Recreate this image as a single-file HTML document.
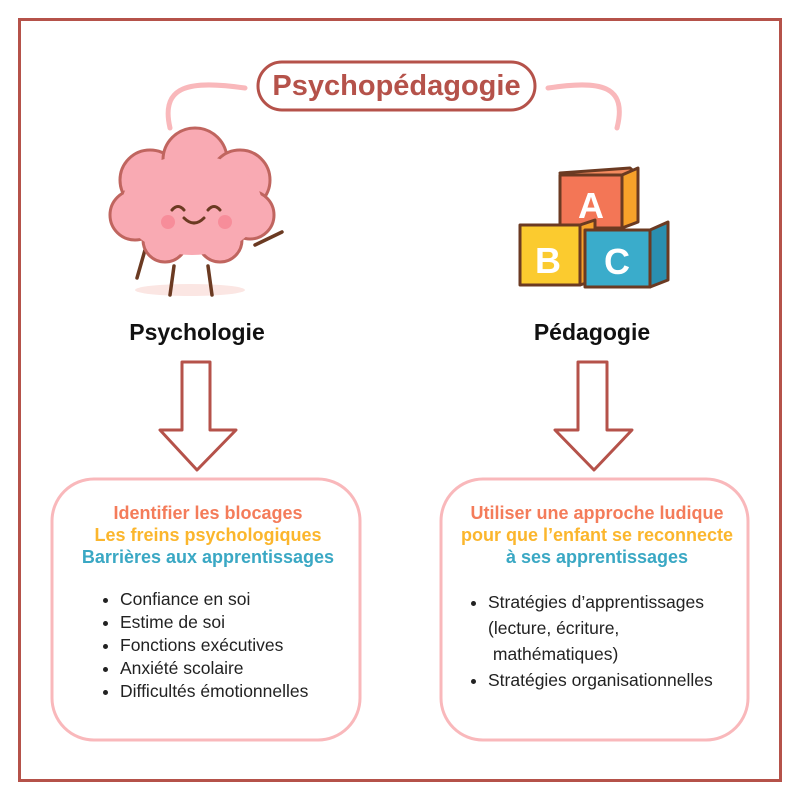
<!DOCTYPE html>
<html><head><meta charset="utf-8"><style>
body{margin:0;background:#fff;}
.wrap{position:relative;width:800px;height:800px;overflow:hidden;font-family:"Liberation Sans",sans-serif;}
.t{position:absolute;text-align:center;}
.h{font-weight:bold;font-size:18px;line-height:22px;}
ul{position:absolute;margin:0;padding:0 0 0 20px;font-size:17.5px;color:#222;}
li{line-height:23px;}
</style></head><body><div class="wrap">
<svg width="800" height="800" style="position:absolute;left:0;top:0">
<rect x="19.5" y="19.5" width="761" height="761" fill="none" stroke="#b5524a" stroke-width="3"/>
<path d="M170 128 C160 85 190 80 245 88" fill="none" stroke="#f9b8bb" stroke-width="5" stroke-linecap="round"/>
<path d="M548 88 C600 80 628 85 617 128" fill="none" stroke="#f9b8bb" stroke-width="5" stroke-linecap="round"/>
<rect x="258" y="62" width="277" height="48" rx="24" fill="#fff" stroke="#b5524a" stroke-width="3"/>
<ellipse cx="190" cy="290" rx="55" ry="6" fill="#fbe6e3"/>
<g stroke="#6b3a22" stroke-width="3.5" fill="none" stroke-linecap="round">
<path d="M174 266 L170 295 M208 266 L212 295 M145 250 L137 278 M255 245 L282 232"/>
</g>
<g fill="#f9aab3" stroke="#c0655f" stroke-width="3">
<circle cx="150" cy="180" r="30"/><circle cx="195" cy="160" r="32"/><circle cx="240" cy="180" r="30"/>
<circle cx="135" cy="215" r="25"/><circle cx="250" cy="215" r="24"/><circle cx="165" cy="240" r="22"/><circle cx="220" cy="240" r="22"/>
</g>
<ellipse cx="192" cy="205" rx="70" ry="50" fill="#f9aab3"/>
<g stroke="#6b3a22" stroke-width="3" fill="none" stroke-linecap="round">
<path d="M172 210 q6 -7 12 0 M208 210 q6 -7 12 0 M184 218 q10 10 20 0"/>
</g>
<circle cx="168" cy="222" r="7" fill="#f78d9a"/><circle cx="225" cy="222" r="7" fill="#f78d9a"/>
<g stroke="#6b3a22" stroke-width="3" stroke-linejoin="round">
<polygon points="560,173 630,168 638,175 568,182" fill="#f48a5e"/>
<rect x="560" y="175" width="62" height="53" fill="#f37656"/>
<polygon points="622,175 638,168 638,222 622,228" fill="#f7a12a"/>
<rect x="520" y="225" width="60" height="60" fill="#fbcb2f"/>
<polygon points="580,225 595,220 595,280 580,285" fill="#f7a12a"/>
<rect x="585" y="230" width="65" height="57" fill="#3aaccb"/>
<polygon points="650,230 668,222 668,280 650,287" fill="#2a8fb0"/>
</g>
<g font-family="Liberation Sans" font-weight="bold" fill="#fff" font-size="36" text-anchor="middle">
<text x="591" y="218">A</text><text x="548" y="273">B</text><text x="617" y="274">C</text></g>
<g fill="#fff" stroke="#b5524a" stroke-width="3" stroke-linejoin="round">
<polygon points="182,362 210,362 210,430 236,430 197,470 160,430 182,430"/>
<polygon points="578,362 607,362 607,430 632,430 594,470 555,430 578,430"/>
</g>
<rect x="52" y="479" width="308" height="261" rx="42" fill="#fff" stroke="#f9b8bb" stroke-width="3"/>
<rect x="441" y="479" width="307" height="261" rx="42" fill="#fff" stroke="#f9b8bb" stroke-width="3"/>
</svg>
<div class="t" style="left:248px;top:64px;width:297px;line-height:44px;font-size:29px;font-weight:bold;color:#b5524a;">Psychopédagogie</div>
<div class="t" style="left:97px;top:319px;width:200px;font-size:23px;font-weight:bold;color:#111;">Psychologie</div>
<div class="t" style="left:492px;top:319px;width:200px;font-size:23px;font-weight:bold;color:#111;">Pédagogie</div>
<div class="t h" style="left:42px;top:502px;width:332px;"><span style="color:#f47c5a">Identifier les blocages</span><br><span style="color:#fbb62d">Les freins psychologiques</span><br><span style="color:#3aa8c4">Barrières aux apprentissages</span></div>
<div class="t h" style="left:431px;top:502px;width:332px;"><span style="color:#f47c5a">Utiliser une approche ludique</span><br><span style="color:#fbb62d">pour que l’enfant se reconnecte</span><br><span style="color:#3aa8c4">à ses apprentissages</span></div>
<ul style="left:100px;top:588px;"><li>Confiance en soi</li><li>Estime de soi</li><li>Fonctions exécutives</li><li>Anxiété scolaire</li><li>Difficultés émotionnelles</li></ul>
<ul style="left:468px;top:589px;"><li style="line-height:26px">Stratégies d’apprentissages<br>(lecture, écriture,<br>&nbsp;mathématiques)</li><li style="line-height:26px">Stratégies organisationnelles</li></ul>
</div></body></html>
